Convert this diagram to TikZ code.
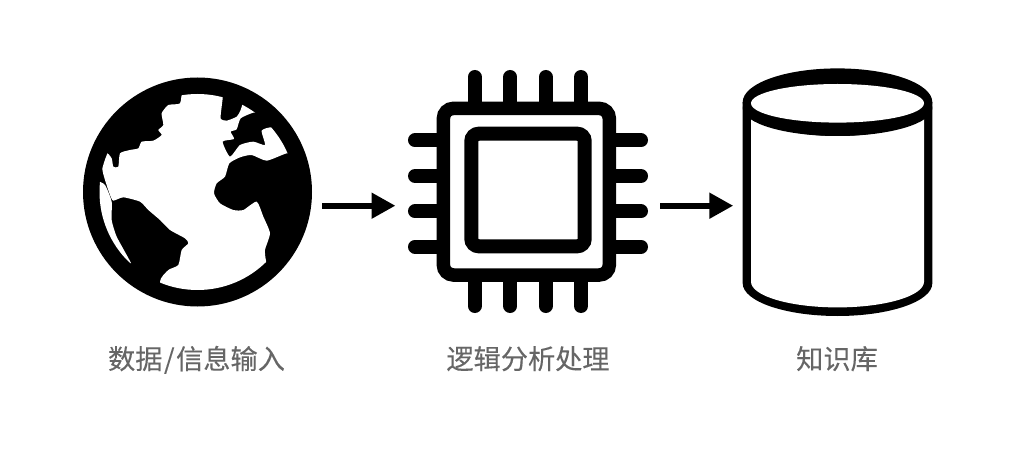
\documentclass[tikz,border=0pt]{standalone}
\usepackage{fontspec}
\setmainfont[FakeBold=0.12]{Noto Sans CJK SC}
\usetikzlibrary{arrows.meta}
\definecolor{labelgrey}{HTML}{666666}
\tikzset{
  flow/.style={line width=6pt,-{Triangle[length=24pt,width=24.6pt]}},
  pin/.style={line width=14pt,line cap=round},
  iconbox/.style={inner sep=0pt,outer sep=0pt},
  caption/.style={inner sep=0pt,anchor=base,text=labelgrey,font=\fontsize{27.2pt}{30pt}\selectfont},
}
\begin{document}
\begin{tikzpicture}[x=1pt,y=-1pt]
\useasboundingbox (0,0) rectangle (1016,470);
\fill[white] (0,0) rectangle (1016,470);
% globe
\fill[black] (197.5,192) circle[radius=114.5];
\begin{scope}[shift={(70,70)},scale=1/3]
\begin{scope}
\clip (382.5,366) circle[radius=294];
\fill[white] plot[smooth cycle,tension=0.35] coordinates {
 (340,60)(400,40)(460,60)(458,85)(455,110)(452,146)(470,152)(500,140)(512,120)(525,90)(570,130)(550,128)
 (512,145)(500,178)(482,185)(492,207)(458,215)(480,260)(510,225)(550,215)(585,225)(575,182)(605,172)(640,190)(690,250)(650,250)
 (590,272)(545,255)(510,262)(478,280)(465,320)(440,340)(432,370)(450,400)(490,420)(520,420)(560,395)(580,440)(600,490)(585,540)(590,578)(620,600)
 (500,720)(300,720)(270,635)(295,600)(325,585)(335,540)(355,520)(345,505)(300,480)(270,450)(235,420)(210,395)(160,382)(130,392)(120,375)(105,330)(97,295)(110,250)(125,265)(130,290)(145,290)(150,250)(180,240)(205,235)(215,215)(250,212)(275,195)(265,180)(280,165)(275,130)(295,105)(330,100)};
\fill[white] plot[smooth cycle,tension=0.35] coordinates {
 (80,335)(105,345)(125,395)(125,450)(140,500)(183,580)(140,535)(105,470)(80,390)};
\end{scope}
\end{scope}
\node[iconbox,minimum width=229pt,minimum height=229pt] (globe) at (197.5,192) {};
% chip
\foreach \p in {474.7,510.3,545.7,581}{
  \draw[pin] (\p,77) -- (\p,108);
  \draw[pin] (\p,306) -- (\p,275);
}
\foreach \p in {140.3,176,211.3,246.7}{
  \draw[pin] (415,\p) -- (443,\p);
  \draw[pin] (641,\p) -- (609,\p);
}
\draw[line width=13.5pt,fill=white,rounded corners=10pt] (443.4,108.4) rectangle (609.3,275);
\draw[line width=14pt,rounded corners=7.5pt] (471.3,133.7) rectangle (584.7,246.3);
\node[iconbox,minimum width=240pt,minimum height=243pt] (chip) at (528.2,191.7) {};
% database
\fill[black] (742.7,102.2) -- (742.7,283.3) arc[start angle=180,end angle=360,x radius=94.8pt,y radius=32.7pt] -- (932.3,102.2) -- cycle;
\fill[white] (751,110) -- (751,281.7) arc[start angle=180,end angle=360,x radius=86.5pt,y radius=25.7pt] -- (924,110) -- cycle;
\fill[black] (837.5,102.2) ellipse[x radius=94.8,y radius=33.8];
\fill[black] (837.5,108) ellipse[x radius=94.8,y radius=28];
\fill[white] (837.5,103.3) ellipse[x radius=86.5,y radius=19.3];
\node[iconbox,minimum width=189.6pt,minimum height=247.7pt] (store) at (837.5,192.2) {};
% connectors
\coordinate (row) at (0,205.7);
\draw[flow] ([xshift=10pt]globe.east |- row) -- ([xshift=-12.7pt]chip.west |- row);
\draw[flow] ([xshift=11.8pt]chip.east |- row) -- ([xshift=-9.4pt]store.west |- row);
% labels
\node[caption] (l1) at (196.5,369) {数据\hspace{1.5pt}/\hspace{1.5pt}信息输入};
\node[caption] (l2) at (528,369) {逻辑分析处理};
\node[caption] (l3) at (837,369) {知识库};
\end{tikzpicture}
\end{document}
